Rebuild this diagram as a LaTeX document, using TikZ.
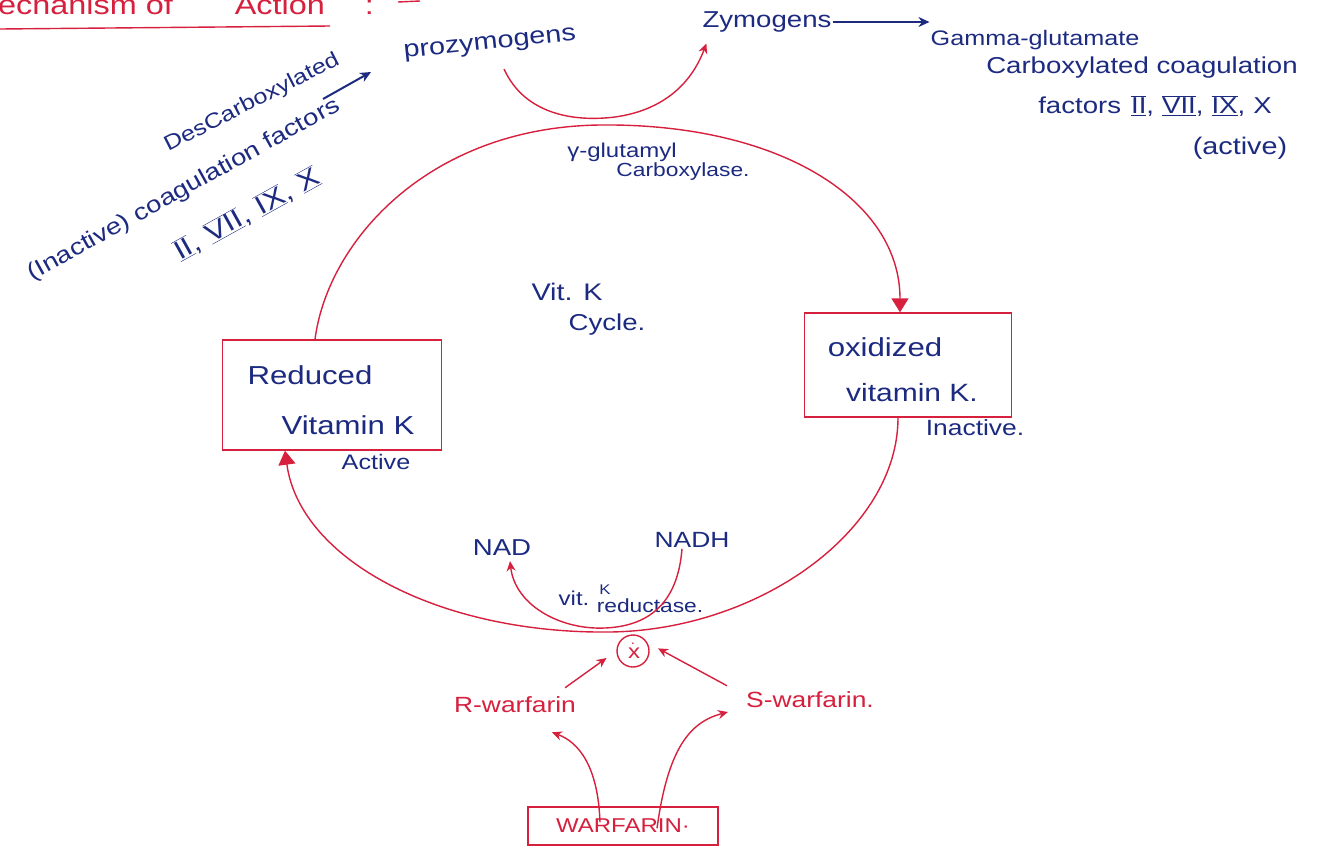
\documentclass[tikz,border=0pt]{standalone}
\usepackage{fontspec}
\setmainfont{Liberation Sans}[FakeStretch=1.2]
\usetikzlibrary{arrows.meta}
\definecolor{ink}{RGB}{28,42,128}
\definecolor{pen}{RGB}{214,32,62}
\newcommand{\rn}[1]{\ensuremath{\overline{\underline{\mbox{#1}}}}}
\newcommand{\fs}[1]{\fontsize{#1}{#1}\selectfont}
\begin{document}
\begin{tikzpicture}[x=1pt,y=-1pt,
  bt/.style={text=ink,inner sep=1pt},
  rt/.style={text=pen,inner sep=1pt},
  rl/.style={draw=pen,line width=1.4pt},
  bl/.style={draw=ink,line width=2pt},
  bigtip/.style={-{Triangle[length=14pt,width=17pt]}},
  rtip/.style={-{Stealth[length=10pt,width=9pt]}},
  btip/.style={-{Stealth[length=11pt,width=10pt]}},
  redbox/.style={draw=pen,line width=1.4pt,inner sep=0pt}]
\useasboundingbox (0,0) rectangle (1330,849);
\clip (0,0) rectangle (1330,849);
\fill[white] (0,0) rectangle (1330,849);

% title (cut at top)
\node[rt,anchor=base west,font=\fs{27}] (title) at (-3,14) {echanism of\hspace{62pt}Action\hspace{40pt}:};
\draw[rl] (0,29) -- (330,26);
\draw[rl] (398,2) -- (420,1);

% top texts
\node[bt,font=\fs{24},rotate=6] (pz) at (490,45) {prozymogens};
\node[bt,font=\fs{23}] (zy) at (767,22) {Zymogens};
\node[bt,font=\fs{21}] (gm) at (1035,40) {Gamma-glutamate};
\node[bt,font=\fs{23}] (gm2) at (1142,68) {Carboxylated coagulation};
\node[bt,font=\fs{23}] (gm3) at (1155,106) {factors\hspace{10pt}\rn{II},\hspace{8pt}\rn{VII},\hspace{8pt}\rn{IX},\hspace{8pt}X};
\node[bt,font=\fs{24}] (gm4) at (1240,148) {(active)};

% left rotated texts
\node[bt,font=\fs{21},rotate=27] (dc) at (252,103) {DesCarboxylated};
\node[bt,font=\fs{23},rotate=29] (dc2) at (184,190) {(Inactive) coagulation factors};
\node[bt,font=\fs{26},rotate=29] (dc3) at (247,214) {\rn{II},\hspace{10pt}\rn{VII},\hspace{10pt}\rn{IX},\hspace{10pt}\rn{X}};
\coordinate (da1) at (323,99);
\coordinate (da2) at (371,72);
\draw[bl,btip] (da1) -- (da2);

% cycle labels
\node[bt,font=\fs{20}] (gc) at (622,152) {γ-glutamyl};
\node[bt,font=\fs{19}] (gc2) at (683,172) {Carboxylase.};
\node[bt,font=\fs{24}] (vk) at (567,292) {Vit. K};
\node[bt,font=\fs{23}] (cy) at (607,325) {Cycle.};

% boxes
\node[redbox,minimum width=219pt,minimum height=110pt] (rb) at (332,395) {};
\node[bt,font=\fs{26}] (rbt1) at (310,375) {Reduced};
\node[bt,font=\fs{26}] (rbt2) at (348,425) {Vitamin K};
\node[bt,font=\fs{21}] (act) at (376,462) {Active};
\node[redbox,minimum width=207pt,minimum height=104pt] (ob) at (908,365) {};
\node[bt,font=\fs{26}] (obt1) at (885,347) {oxidized};
\node[bt,font=\fs{25}] (obt2) at (912,393) {vitamin K.};
\node[bt,font=\fs{22}] (ina) at (975,428) {Inactive.};

% reductase
\node[bt,font=\fs{23}] (nad) at (502,548) {NAD};
\node[bt,font=\fs{22}] (nadh) at (692,540) {NADH};
\node[bt,font=\fs{20}] (vr1) at (574,598) {vit.};
\node[bt,font=\fs{14}] (vr2) at (605,590) {K};
\node[bt,font=\fs{19}] (vr3) at (650,606) {reductase.};

% warfarin
\node[draw=pen,line width=1.4pt,circle,minimum size=32pt,inner sep=0pt,text=pen,font=\fs{20}] (ox) at (633,651) {$\dot{\mathrm{x}}$};
\node[rt,font=\fs{22}] (rw) at (515,705) {R-warfarin};
\node[rt,font=\fs{22}] (sw) at (810,700) {S-warfarin.};
\node[redbox,minimum width=190pt,minimum height=38pt,text=pen,font=\fs{20}] (wf) at (623,826) {WARFARIN·};

% cycle connectors
\draw[rl,bigtip] ([xshift=-17pt]rb.north) .. controls (328,240) and (430,127) .. (600,125)
   .. controls (780,123) and (900,200) .. ([xshift=-8pt]ob.north);
\draw[rl,bigtip] ([xshift=-10pt]ob.south) .. controls (898,530) and (760,630) .. (610,632)
   .. controls (440,634) and (300,560) .. ([xshift=-47pt]rb.south);

% zymogen conversion
\draw[rl,rtip] ([xshift=13pt,yshift=-14pt]pz.south) .. controls (525,115) and (575,122) .. (615,117)
   .. controls (665,110) and (692,82) .. ([xshift=5pt,yshift=-10pt]zy.south west);
\draw[bl,btip] (zy.east) -- (zy.east -| gm.west);

% NADH -> NAD
\draw[rl,rtip] ([xshift=-10pt]nadh.south) .. controls (678,600) and (652,626) .. (605,628)
   .. controls (560,630) and (515,605) .. ([xshift=8pt,yshift=-4pt]nad.south);

% warfarin arrows
\draw[rl,rtip,shorten >=12pt] ([xshift=-12pt,yshift=8pt]rw.north east) -- (ox.west);
\draw[rl,rtip,shorten >=12pt] ([xshift=-18pt,yshift=5pt]sw.north west) -- (ox.30);
\draw[rl,rtip] ([xshift=-23pt,yshift=-16pt]wf.north) .. controls (598,765) and (578,742) .. ([xshift=37pt,yshift=-18pt]rw.south);
\draw[rl,rtip] ([xshift=34pt,yshift=-22pt]wf.north) .. controls (668,748) and (690,722) .. ([xshift=-17pt,yshift=-12pt]sw.west);
\end{tikzpicture}
\end{document}
